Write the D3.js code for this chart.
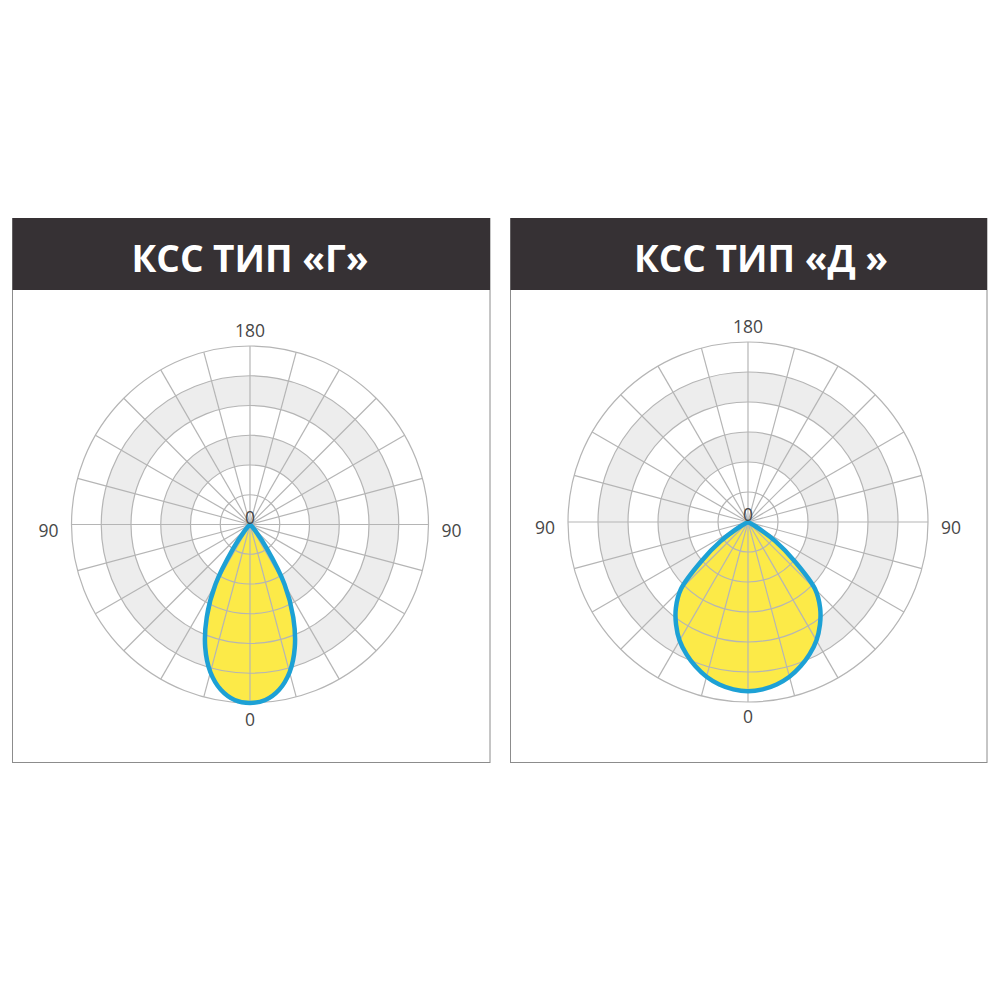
<!DOCTYPE html>
<html><head><meta charset="utf-8">
<script src="https://cdn.jsdelivr.net/npm/d3@7"></script>
<style>html,body{margin:0;padding:0;background:#fff;}svg{display:block;}</style>
</head><body>
<script>
// ---- data ----
const titles = ["КСС ТИП «Г»", "КСС ТИП «Д »"];
const ringValues = [50, 100, 150, 200, 250, 300];
const spokeAngles = [0, 15, 30, 45, 60, 75, 90, 105, 120, 135, 150, 165, 180, 195, 210, 225, 240, 255, 270, 285, 300, 315, 330, 345];
const curveAngles = [0, 5, 10, 15, 20, 25, 30, 35, 40, 45, 50, 55, 60, 65, 70];
const valuesG = [300, 296, 282, 257, 220, 172, 116, 49, 15, 3, 0, 0, 0, 0, 0];
const valuesD = [282, 280, 275, 267, 256, 243, 228, 209, 187, 158, 101, 55, 15, 0, 0];
const axisLabels = ["180", "90", "90", "0", "0"];

const svg = d3.select("body").append("svg").attr("width", 1000).attr("height", 1000);

const panels = [
  {x0: 12.5, x1: 490, cx: 250, cy: 524.5, R: 178.5, titleX: 250, values: valuesG, title: titles[0]},
  {x0: 510.5, x1: 987, cx: 748, cy: 522, R: 180, titleX: 761, values: valuesD, title: titles[1]}
];

panels.forEach(p => {
  const g = svg.append("g");
  // frame
  g.append("rect").attr("x", p.x0).attr("y", 218.5).attr("width", p.x1 - p.x0).attr("height", 544)
    .attr("fill", "#fff").attr("stroke", "#8c8c8c").attr("stroke-width", 1);
  g.append("rect").attr("x", p.x0).attr("y", 218).attr("width", p.x1 - p.x0).attr("height", 72)
    .attr("fill", "#363134");
  g.append("text").attr("x", p.titleX).attr("y", 272).attr("text-anchor", "middle")
    .attr("font-family", "'Open Sans', sans-serif").attr("font-weight", 700).attr("font-size", 37)
    .attr("fill", "#fff").text(p.title);

  const r = d3.scaleLinear().domain([0, 300]).range([0, p.R]);
  const c = g.append("g").attr("transform", `translate(${p.cx},${p.cy})`);

  // shaded bands (between rings 2-3 and 4-5)
  const arc = d3.arc();
  [[100, 150], [200, 250]].forEach(([a, b]) => {
    c.append("path").attr("d", arc({innerRadius: r(a), outerRadius: r(b), startAngle: 0, endAngle: 2 * Math.PI}))
      .attr("fill", "#ededed");
  });

  // light distribution curve
  const pts = [];
  pts.push({a: 60, v: 0});
  for (let i = curveAngles.length - 1; i >= 0; i--) if (p.values[i] > 0) pts.push({a: curveAngles[i], v: p.values[i]});
  for (let i = 1; i < curveAngles.length; i++) if (p.values[i] > 0) pts.push({a: -curveAngles[i], v: p.values[i]});
  pts.push({a: -60, v: 0});
  const line = d3.lineRadial()
    .angle(d => Math.PI - d.a * Math.PI / 180)
    .radius(d => r(d.v))
    .curve(d3.curveCatmullRom.alpha(0.5));
  const dPath = line(pts) + "Z";
  c.append("path").attr("d", dPath).attr("fill", "#fcea48");

  // grid
  ringValues.forEach(v => {
    c.append("circle").attr("r", r(v)).attr("fill", "none").attr("stroke", "#b5b5b5").attr("stroke-width", 1.2);
  });
  spokeAngles.forEach(a => {
    const t = a * Math.PI / 180;
    c.append("line").attr("x1", 0).attr("y1", 0)
      .attr("x2", r(300) * Math.sin(t)).attr("y2", -r(300) * Math.cos(t))
      .attr("stroke", "#b5b5b5").attr("stroke-width", 1.2);
  });

  c.append("path").attr("d", dPath).attr("fill", "none").attr("stroke", "#1da1d5")
    .attr("stroke-width", 4.5).attr("stroke-linejoin", "round");

  // labels
  const lab = (txt, x, y) => c.append("text").attr("x", x).attr("y", y).attr("text-anchor", "middle")
    .attr("font-family", "'Open Sans', sans-serif").attr("font-size", 17.5).attr("fill", "#474747").text(txt);
  lab(axisLabels[0], 0, -p.R - 9);
  lab(axisLabels[1], -p.R - 23, 12);
  lab(axisLabels[2], p.R + 23, 12);
  lab(axisLabels[3], 0, -1);
  lab(axisLabels[4], 0, 201);
});
</script>
</body></html>
